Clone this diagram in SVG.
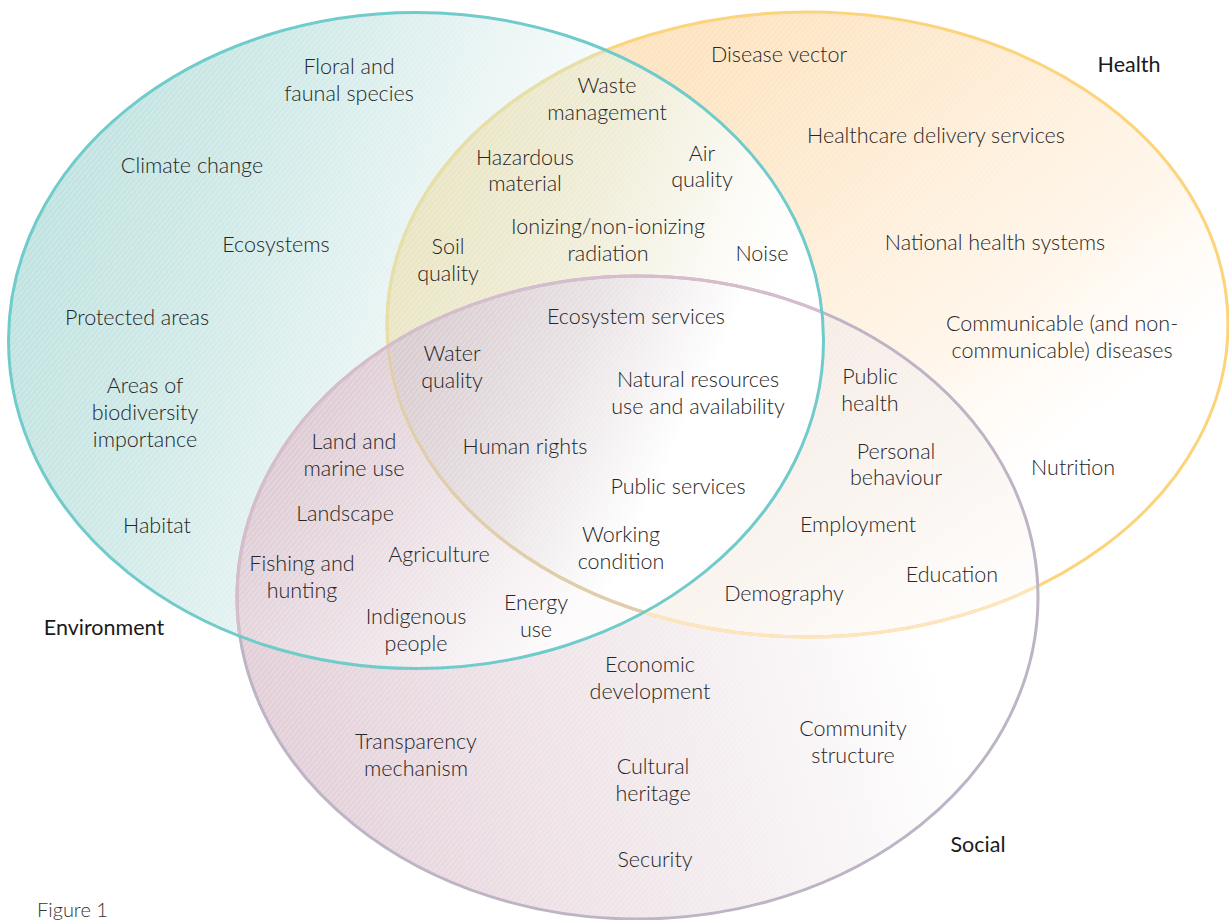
<svg xmlns="http://www.w3.org/2000/svg" xmlns:xlink="http://www.w3.org/1999/xlink" width="1229" height="920" viewBox="0 0 1229 920">
<style>
text{font-family:Lato,"Open Sans","Liberation Sans",sans-serif;font-size:21.5px;font-weight:300;fill:#262626;text-anchor:middle}
text.cat{fill:#1a1a1a;font-weight:400}
text.fig{text-anchor:start;fill:#333}
</style>
<defs>
<ellipse id="eT" cx="416" cy="340.5" rx="407.5" ry="328"/>
<ellipse id="eO" cx="807.5" cy="324.5" rx="420.5" ry="312.5"/>
<ellipse id="eP" cx="637.5" cy="597.5" rx="400.5" ry="321.5"/>
<clipPath id="cT"><ellipse cx="416" cy="340.5" rx="407.5" ry="328"/></clipPath>
<clipPath id="cO"><ellipse cx="807.5" cy="324.5" rx="420.5" ry="312.5"/></clipPath>
<clipPath id="cP"><ellipse cx="637.5" cy="597.5" rx="400.5" ry="321.5"/></clipPath>
<clipPath id="cU"><ellipse cx="416" cy="340.5" rx="407.5" ry="328"/><ellipse cx="807.5" cy="324.5" rx="420.5" ry="312.5"/><ellipse cx="637.5" cy="597.5" rx="400.5" ry="321.5"/></clipPath>
<linearGradient id="gT" gradientUnits="userSpaceOnUse" x1="10" y1="200" x2="825" y2="500"><stop offset="0" stop-color="#bde1df"/><stop offset="0.25" stop-color="#d0eae8"/><stop offset="0.45" stop-color="#e8f4f3"/><stop offset="0.6" stop-color="#f9fcfc"/><stop offset="0.75" stop-color="#ffffff"/></linearGradient>
<linearGradient id="gO" gradientUnits="userSpaceOnUse" x1="720" y1="20" x2="1120" y2="520"><stop offset="0" stop-color="#fde3bf"/><stop offset="0.3" stop-color="#feebd2"/><stop offset="0.6" stop-color="#fff5e8"/><stop offset="0.85" stop-color="#ffffff"/></linearGradient>
<linearGradient id="gP" gradientUnits="userSpaceOnUse" x1="240" y1="650" x2="1000" y2="450"><stop offset="0" stop-color="#e2ced7"/><stop offset="0.3" stop-color="#ede1e6"/><stop offset="0.6" stop-color="#f6f0f2"/><stop offset="0.85" stop-color="#ffffff"/></linearGradient>
<linearGradient id="gD" gradientUnits="userSpaceOnUse" x1="450" y1="130" x2="790" y2="260"><stop offset="0" stop-color="#e9e5c4"/><stop offset="0.45" stop-color="#f0edd8"/><stop offset="0.8" stop-color="#fbfaf4"/><stop offset="1" stop-color="#ffffff"/></linearGradient>
<linearGradient id="gE" gradientUnits="userSpaceOnUse" x1="260" y1="440" x2="560" y2="640"><stop offset="0" stop-color="#dcc8d1"/><stop offset="0.5" stop-color="#ece1e6"/><stop offset="1" stop-color="#fdfbfc"/></linearGradient>
<linearGradient id="gF" gradientUnits="userSpaceOnUse" x1="820" y1="300" x2="1040" y2="620"><stop offset="0" stop-color="#f5ebe5"/><stop offset="0.5" stop-color="#faf4ef"/><stop offset="1" stop-color="#fffefd"/></linearGradient>
<linearGradient id="gG" gradientUnits="userSpaceOnUse" x1="420" y1="330" x2="720" y2="470"><stop offset="0" stop-color="#d9cdd1"/><stop offset="0.45" stop-color="#e9e2e4"/><stop offset="0.85" stop-color="#ffffff"/></linearGradient>
<pattern id="hatch" width="4" height="4" patternUnits="userSpaceOnUse" patternTransform="rotate(40)"><line x1="0.5" y1="0" x2="0.5" y2="4" stroke="#ffffff" stroke-width="0.8" stroke-opacity="0.35"/></pattern>
</defs>
<rect width="1229" height="920" fill="#ffffff"/>

<g id="fills">
<use xlink:href="#eT" fill="url(#gT)"/>
<use xlink:href="#eO" fill="url(#gO)"/>
<use xlink:href="#eP" fill="url(#gP)"/>
<use xlink:href="#eO" fill="url(#gD)" clip-path="url(#cT)"/>
<use xlink:href="#eP" fill="url(#gF)" clip-path="url(#cO)"/>
<use xlink:href="#eP" fill="url(#gE)" clip-path="url(#cT)"/>
<g clip-path="url(#cO)"><use xlink:href="#eP" fill="url(#gG)" clip-path="url(#cT)"/></g>
<rect width="1229" height="920" fill="url(#hatch)" clip-path="url(#cU)"/>
</g>

<g id="connectors" fill="none" stroke-width="3">
<use id="health-outline" xlink:href="#eO" stroke="#fcd47c"/>
<use xlink:href="#eO" stroke="#fde6bf" clip-path="url(#cP)"/>
<use xlink:href="#eO" stroke="#e5dfac" clip-path="url(#cT)"/>
<g clip-path="url(#cP)"><use xlink:href="#eO" stroke="#dfcdb2" clip-path="url(#cT)"/></g>
<use id="social-outline" xlink:href="#eP" stroke="#bdb4c5"/>
<use xlink:href="#eP" stroke="#d7bdcb" clip-path="url(#cT)"/>
<use id="environment-outline" xlink:href="#eT" stroke="#70cbcb"/>
</g>

<g id="environment">
<text class="cat" x="104" y="635">Environment</text>
<text x="349" y="74">Floral and</text>
<text x="349" y="101">faunal species</text>
<text x="192" y="173">Climate change</text>
<text x="276" y="252">Ecosystems</text>
<text x="137" y="325">Protected areas</text>
<text x="145" y="393">Areas of</text>
<text x="145" y="420">biodiversity</text>
<text x="145" y="447">importance</text>
<text x="157" y="533">Habitat</text>
</g>

<g id="health">
<text class="cat" x="1129" y="72">Health</text>
<text x="779" y="62">Disease vector</text>
<text x="936" y="143">Healthcare delivery services</text>
<text x="995" y="250">National health systems</text>
<text x="1062" y="331">Communicable (and non-</text>
<text x="1062" y="358">communicable) diseases</text>
<text x="1073" y="475">Nutrition</text>
</g>

<g id="social">
<text class="cat" x="978" y="852">Social</text>
<text x="650" y="672">Economic</text>
<text x="650" y="699">development</text>
<text x="416" y="749">Transparency</text>
<text x="416" y="776">mechanism</text>
<text x="653" y="774">Cultural</text>
<text x="653" y="801">heritage</text>
<text x="853" y="736">Community</text>
<text x="853" y="763">structure</text>
<text x="655" y="867">Security</text>
</g>

<g id="environment-health">
<text x="607" y="93">Waste</text>
<text x="607" y="120">management</text>
<text x="525" y="165">Hazardous</text>
<text x="525" y="191">material</text>
<text x="702" y="161">Air</text>
<text x="702" y="187">quality</text>
<text x="608" y="234">Ionizing/non-ionizing</text>
<text x="608" y="261">radiation</text>
<text x="448" y="254">Soil</text>
<text x="448" y="281">quality</text>
<text x="762" y="261">Noise</text>
</g>

<g id="environment-social">
<text x="354" y="449">Land and</text>
<text x="354" y="476">marine use</text>
<text x="345" y="521">Landscape</text>
<text x="302" y="571">Fishing and</text>
<text x="302" y="598">hunting</text>
<text x="439" y="562">Agriculture</text>
<text x="416" y="624">Indigenous</text>
<text x="416" y="651">people</text>
<text x="536" y="610">Energy</text>
<text x="536" y="637">use</text>
</g>

<g id="health-social">
<text x="870" y="384">Public</text>
<text x="870" y="411">health</text>
<text x="896" y="459">Personal</text>
<text x="896" y="485">behaviour</text>
<text x="858" y="532">Employment</text>
<text x="952" y="582">Education</text>
<text x="784" y="601">Demography</text>
</g>

<g id="all-three">
<text x="636" y="324">Ecosystem services</text>
<text x="452" y="361">Water</text>
<text x="452" y="388">quality</text>
<text x="698" y="387">Natural resources</text>
<text x="698" y="414">use and availability</text>
<text x="525" y="454">Human rights</text>
<text x="678" y="494">Public services</text>
<text x="621" y="542">Working</text>
<text x="621" y="569">condition</text>
</g>

<text class="fig" x="37" y="917" style="font-size:20px">Figure 1</text>
</svg>
